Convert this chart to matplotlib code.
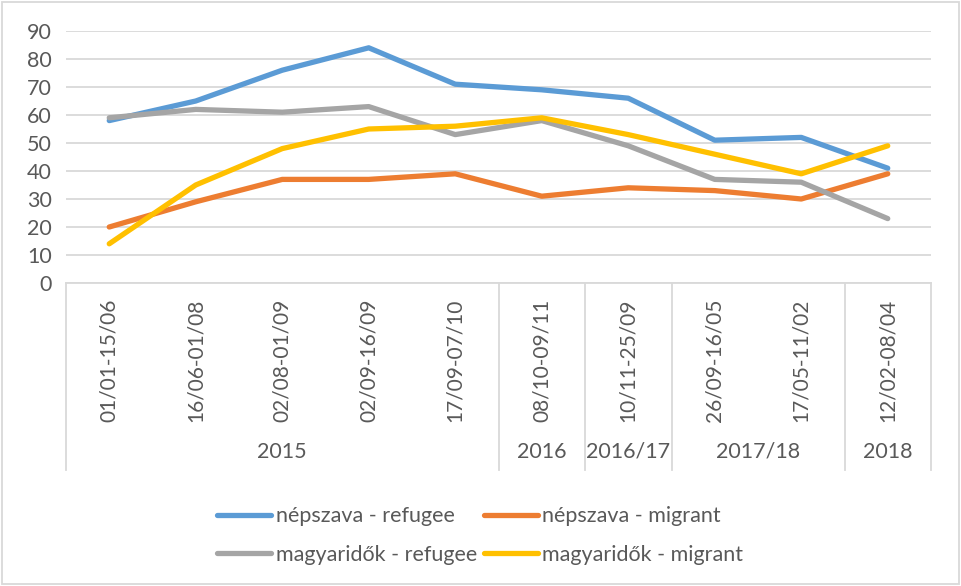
import matplotlib
matplotlib.use("Agg")
import matplotlib.pyplot as plt
import matplotlib.transforms as mtransforms
from matplotlib.patches import Rectangle

plt.rcParams['font.family'] = ['Lato', 'DejaVu Sans']

categories = ["01/01-15/06", "16/06-01/08", "02/08-01/09", "02/09-16/09", "17/09-07/10",
              "08/10-09/11", "10/11-25/09", "26/09-16/05", "17/05-11/02", "12/02-08/04"]
groups = ["2015", "2016", "2016/17", "2017/18", "2018"]
group_sizes = [5, 1, 1, 2, 1]

nepszava_refugee = [58, 65, 76, 84, 71, 69, 66, 51, 52, 41]
nepszava_migrant = [20, 29, 37, 37, 39, 31, 34, 33, 30, 39]
magyaridok_refugee = [59, 62, 61, 63, 53, 58, 49, 37, 36, 23]
magyaridok_migrant = [14, 35, 48, 55, 56, 59, 53, 46, 39, 49]

series = [
    ("népszava - refugee", nepszava_refugee, "#5B9BD5"),
    ("népszava - migrant", nepszava_migrant, "#ED7D31"),
    ("magyaridők - refugee", magyaridok_refugee, "#A5A5A5"),
    ("magyaridők - migrant", magyaridok_migrant, "#FFC000"),
]

W, H = 961, 586
fig = plt.figure(figsize=(W / 100, H / 100), dpi=100)
ax_l, ax_r, ax_t, ax_b = 66, 931, 31, 283
ax = fig.add_axes([ax_l / W, 1 - ax_b / H, (ax_r - ax_l) / W, (ax_b - ax_t) / H])

text_color = "#595959"
grid_color = "#D9D9D9"

x = list(range(len(categories)))
handles = {}
for name, vals, col in series:
    ln, = ax.plot(x, vals, color=col, lw=3.8, solid_capstyle='round', solid_joinstyle='round', zorder=3)
    handles[name] = ln

ax.set_xlim(-0.5, len(categories) - 0.5)
ax.set_ylim(0, 90)
ax.set_yticks(range(0, 91, 10))
ax.yaxis.grid(True, color=grid_color, lw=1.3)
ax.set_axisbelow(True)
for s in ["left", "right", "top"]:
    ax.spines[s].set_visible(False)
ax.spines["bottom"].set_color(grid_color)
ax.spines["bottom"].set_linewidth(1.3)
ax.tick_params(axis='y', length=0, pad=10, labelsize=15.5, labelcolor=text_color)
ax.set_xticks(x)
ax.set_xticklabels(categories, rotation=90, va='top', ha='center')
ax.tick_params(axis='x', length=0, pad=11, labelsize=15, labelcolor=text_color)

# group separators and labels
trans = mtransforms.blended_transform_factory(ax.transData, ax.transAxes)
sep_bottom = -(470 - ax_b) / (ax_b - ax_t)
lab_y = -(452 - ax_b) / (ax_b - ax_t)
pos = -0.5
ax.plot([pos, pos], [0, sep_bottom], transform=trans, color=grid_color, lw=1.3, clip_on=False)
for g, n in zip(groups, group_sizes):
    center = pos + n / 2
    pos += n
    ax.plot([pos, pos], [0, sep_bottom], transform=trans, color=grid_color, lw=1.3, clip_on=False)
    ax.text(center, lab_y, g, transform=trans, ha='center', va='center', fontsize=15.5, color=text_color)

order = ["népszava - refugee", "magyaridők - refugee", "népszava - migrant", "magyaridők - migrant"]
leg = fig.legend([handles[o] for o in order], order, ncol=2, loc='upper left',
                 bbox_to_anchor=(198 / W, 1 - 487 / H), frameon=False, fontsize=15.5,
                 handlelength=2.5, handletextpad=0.2, columnspacing=0.35, labelspacing=0.85,
                 labelcolor=text_color)

fig.patches.append(Rectangle((2 / W, 2 / H), 1 - 4 / W, 1 - 4 / H, transform=fig.transFigure,
                             fill=False, edgecolor="#D9D9D9", lw=1.3))

fig.savefig("out.png", dpi=100)
